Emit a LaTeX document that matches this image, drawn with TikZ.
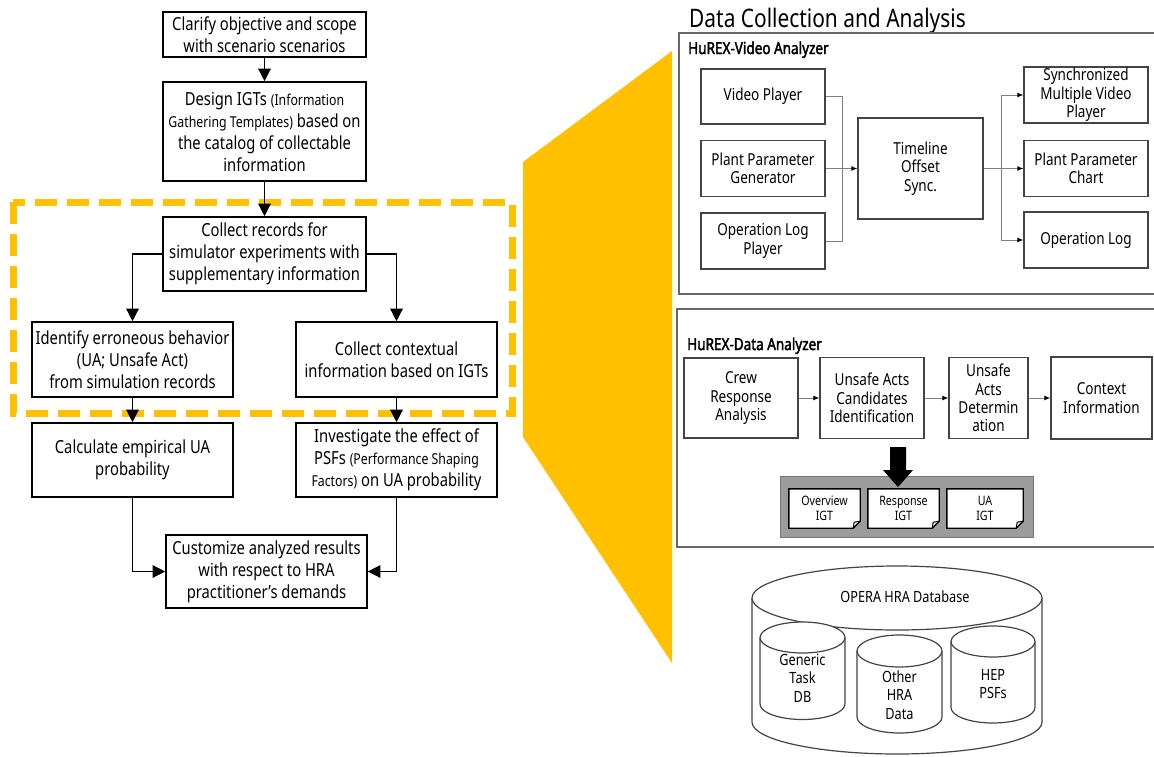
\documentclass[tikz,border=0pt]{standalone}
\usepackage{fontspec}
\setmainfont[FakeStretch=0.82]{Noto Sans}
\newfontfamily\labelfont[FakeStretch=0.82,FakeBold=2.2]{Noto Sans}
\usetikzlibrary{arrows.meta}
\definecolor{amber}{HTML}{FFC000}
\definecolor{boxgray}{HTML}{444444}
\definecolor{linegray}{HTML}{808080}
\definecolor{igtgray}{HTML}{9C9C9C}

% open-topped database can: centre x, top-ellipse y, bottom-ellipse y, radii
\newcommand\dbcan[5]{%
  \filldraw[dbline,fill=white] ({#1-#4},#2) -- ({#1-#4},#3)
    arc[start angle=180,end angle=0,x radius=#4,y radius=#5] -- ({#1+#4},#2);
  \filldraw[dbline,fill=white] (#1,#2) ellipse[x radius=#4,y radius=#5];}
% smaller type for the bracketed expansions
\newcommand\expan[1]{{\fontsize{15}{22}\selectfont #1}}

\begin{document}
\begin{tikzpicture}[x=1pt,y=-1pt,
  flow/.style={draw=black,line width=1.6pt,fill=white,align=center,inner sep=0pt,
    font=\fontsize{18}{22}\selectfont},
  flowarrow/.style={line width=1.3pt,-{Triangle[length=12.5pt,width=12.5pt]}},
  rbox/.style={draw=boxgray,line width=1.3pt,fill=white,align=center,inner sep=0pt,
    font=\fontsize{16.5}{18.5}\selectfont},
  frame/.style={draw=linegray!80!black,line width=1.6pt,inner sep=0pt},
  panellabel/.style={anchor=base west,inner sep=0pt,font=\labelfont\fontsize{16.5}{18}\selectfont},
  thin/.style={draw=linegray,line width=1pt},
  thinarrow/.style={thin,-{Latex[length=6pt,width=5pt,color=black]}},
  docshape/.style={inner sep=0pt},
  doctext/.style={align=center,inner sep=0pt,font=\fontsize{13}{15}\selectfont},
  docline/.style={draw=black,line width=1.4pt,fill=white},
  dbline/.style={draw=boxgray,line width=1.2pt},
  dbtext/.style={align=center,font=\fontsize{15.5}{18.5}\selectfont},
  sz/.style 2 args={minimum width=#1pt,minimum height=#2pt}]

\useasboundingbox (0,0) rectangle (1154,756);
\clip (0,0) rectangle (1154,756);
\fill[white] (0,0) rectangle (1154,756);

% ---------------- wedge linking the dashed stage to the detail panel
\fill[amber] (523,162) -- (672,51) -- (672,663) -- (523,437) -- cycle;

% ---------------- dashed stage frame
\draw[amber,line width=7pt,dash pattern=on 22pt off 10pt] (13,202) rectangle (512,413);

% ---------------- procedure flowchart
\node[flow,sz={203}{45}] (b1) at (264.5,34.5) {Clarify objective and scope\\with scenario scenarios};
\node[flow,sz={203}{99}] (b2) at (264.5,131.5)
  {Design IGTs \expan{(Information}\\\expan{Gathering Templates)} based on\\the catalog of collectable\\information};
\node[flow,sz={203}{74}] (b3) at (264.5,254) {Collect records for\\simulator experiments with\\supplementary information};
\node[flow,sz={201}{75}] (b4) at (132.5,359.5) {Identify erroneous behavior\\(UA; Unsafe Act)\\from simulation records};
\node[flow,sz={201}{75}] (b5) at (396.5,359.5) {Collect contextual\\information based on IGTs};
\node[flow,sz={201}{74}] (b6) at (132.5,460) {Calculate empirical UA\\probability};
\node[flow,sz={201}{74}] (b7) at (396.5,460)
  {Investigate the effect of\\PSFs \expan{(Performance Shaping}\\\expan{Factors)} on UA probability};
\node[flow,sz={201}{73}] (b8) at (266.5,571.5) {Customize analyzed results\\with respect to HRA\\practitioner's demands};

\draw[flowarrow] (b1) -- (b2);
\draw[flowarrow] (b2) -- (b3);
\draw[flowarrow] (b3.west) -| (b4.north);
\draw[flowarrow] (b3.east) -| (b5.north);
\draw[flowarrow] (b4) -- (b6);
\draw[flowarrow] (b5) -- (b7);
\draw[flowarrow] (b6.south) |- (b8.west);
\draw[flowarrow] (b7.south) |- (b8.east);

% ---------------- detail panel
\node[anchor=base west,inner sep=0pt,font=\fontsize{25.5}{28}\selectfont] (title) at (689,27) {Data Collection and Analysis};

% video analyser
\node[frame,sz={481}{261}] (video) at (919.5,163.5) {};
\node[panellabel] (vlabel) at (688,54) {HuREX-Video Analyzer};
\node[rbox,sz={124}{55}] (vp) at (763,96.5) {Video Player};
\node[rbox,sz={124}{56}] (ppg) at (763,168.5) {Plant Parameter\\Generator};
\node[rbox,sz={124}{56}] (olp) at (763,241) {Operation Log\\Player};
\node[rbox,sz={125}{101}] (ts) at (920.5,168.5) {Timeline\\Offset\\Sync.};
\node[rbox,sz={124}{56}] (smvp) at (1086,95) {Synchronized\\Multiple Video\\Player};
\node[rbox,sz={124}{56}] (ppc) at (1086,168.5) {Plant Parameter\\Chart};
\node[rbox,sz={124}{56}] (ol) at (1086,240) {Operation Log};

\coordinate (jin) at (842,168.5);
\coordinate (jout) at (1001,168.5);
\draw[thin] (vp.east) -| (jin);
\draw[thin] (olp.east) -| (jin);
\draw[thinarrow] (ppg.east) -- (ts.west);
\draw[thin] (ts.east) -- (jout);
\draw[thinarrow] (jout) |- (smvp.west);
\draw[thinarrow] (jout) -- (ppc.west);
\draw[thinarrow] (jout) |- (ol.west);

% data analyser
\node[frame,sz={483}{238}] (data) at (918.5,428) {};
\node[panellabel] (dlabel) at (687,350) {HuREX-Data Analyzer};
\node[rbox,sz={114}{80}] (crew) at (741,398) {Crew\\Response\\Analysis};
\node[rbox,sz={104}{81}] (uac) at (872,398) {Unsafe Acts\\Candidates\\Identification};
\node[rbox,sz={79}{81},font=\fontsize{16.5}{18.3}\selectfont] (uad) at (988.5,398) {Unsafe\\Acts\\Determin\\ation};
\node[rbox,sz={101}{82}] (ctx) at (1101.5,398) {Context\\Information};
\draw[thinarrow] (crew) -- (uac);
\draw[thinarrow] (uac) -- (uad);
\draw[thinarrow] (uad) -- (ctx);

% information gathering templates
\node[draw=igtgray!75!black,line width=1pt,fill=igtgray,sz={253}{61},inner sep=0pt] (igt) at (906.5,506.5) {};
\node[docshape,sz={71}{39}] (ov) at (824.5,508.5) {};
\node[docshape,sz={71}{39}] (rs) at (903.5,508.5) {};
\node[docshape,sz={76}{39}] (uaigt) at (985,508.5) {};
\foreach \d in {ov,rs,uaigt}{
  \draw[docline] (\d.north west) -- (\d.north east) -- ([yshift=7pt]\d.south east)
    -- ([xshift=-7pt]\d.south east) -- (\d.south west) -- cycle;
  \draw[black,line width=1pt] ([yshift=7pt]\d.south east) -- ([xshift=-6pt,yshift=6pt]\d.south east)
    -- ([xshift=-7pt]\d.south east);}
\node[doctext] (ovt) at (ov) {Overview\\IGT};
\node[doctext] (rst) at (rs) {Response\\IGT};
\node[doctext] (uat) at (uaigt) {UA\\IGT};

% block arrow into the templates
\coordinate (ba) at (898,447);
\coordinate (bb) at (898,487);
\fill[black] ([xshift=-8pt]ba) -- ([xshift=8pt]ba) -- ([xshift=8pt,yshift=17pt]bb)
  -- ([xshift=15pt,yshift=17pt]bb) -- (bb) -- ([xshift=-15pt,yshift=17pt]bb)
  -- ([xshift=-8pt,yshift=17pt]bb) -- cycle;

% ---------------- database
\dbcan{897}{598}{722}{145}{32}
\node[dbtext] (opera) at (905,597) {OPERA HRA Database};
\dbcan{802.5}{637.5}{704}{42.5}{15.5}
\dbcan{899.5}{651}{717}{42.5}{16}
\dbcan{993}{641.5}{707.5}{42}{15.5}
\node[dbtext] (gtdb) at (802.5,678) {Generic\\Task\\DB};
\node[dbtext] (ohra) at (899.5,695) {Other\\HRA\\Data};
\node[dbtext] (hep) at (993,684) {HEP\\PSFs};
\end{tikzpicture}
\end{document}
